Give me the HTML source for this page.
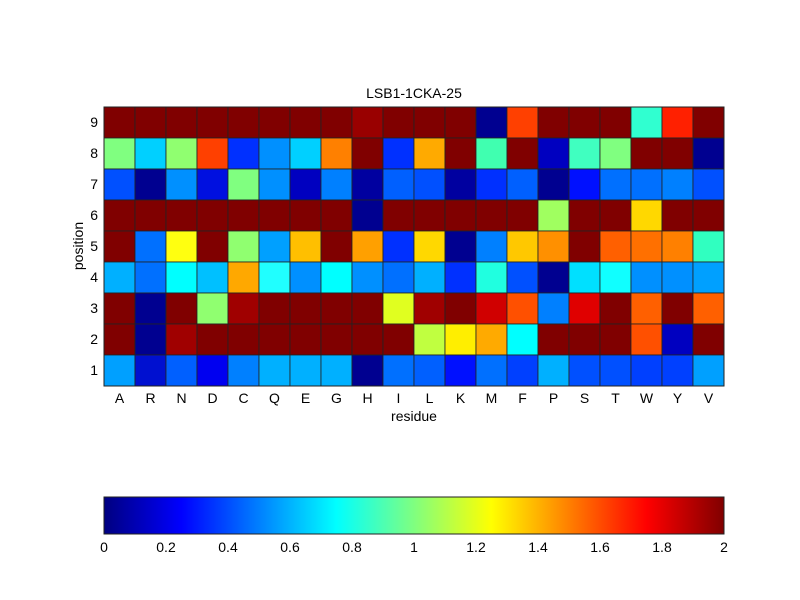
<!DOCTYPE html>
<html><head><meta charset="utf-8"><style>
html,body{margin:0;padding:0;background:#fff;}
svg{display:block;font-family:"Liberation Sans",sans-serif;}
</style></head><body>
<svg id="s" width="800" height="600" xmlns="http://www.w3.org/2000/svg">
<defs><linearGradient id="jet" x1="0" x2="1" y1="0" y2="0">
<stop offset="0" stop-color="#000080"/><stop offset="0.125" stop-color="#0000ff"/>
<stop offset="0.375" stop-color="#00ffff"/><stop offset="0.625" stop-color="#ffff00"/>
<stop offset="0.875" stop-color="#ff0000"/><stop offset="1" stop-color="#800000"/></linearGradient></defs>
<rect width="800" height="600" fill="#fff"/>
<g id="cells"></g>
<rect x="104" y="107" width="620" height="279" fill="none" stroke="#222" stroke-width="1"/>
<text x="414" y="98" font-size="14" text-anchor="middle">LSB1-1CKA-25</text>
<g font-size="14" text-anchor="end">
<text x="98" y="127">9</text><text x="98" y="158">8</text><text x="98" y="189">7</text>
<text x="98" y="220">6</text><text x="98" y="251">5</text><text x="98" y="282">4</text>
<text x="98" y="313">3</text><text x="98" y="344">2</text><text x="98" y="375">1</text>
</g>
<g font-size="14" text-anchor="middle" id="xl">
<text x="119.5" y="403">A</text><text x="150.5" y="403">R</text><text x="181.5" y="403">N</text><text x="212.5" y="403">D</text><text x="243.5" y="403">C</text><text x="274.5" y="403">Q</text><text x="305.5" y="403">E</text><text x="336.5" y="403">G</text><text x="367.5" y="403">H</text><text x="398.5" y="403">I</text><text x="429.5" y="403">L</text><text x="460.5" y="403">K</text><text x="491.5" y="403">M</text><text x="522.5" y="403">F</text><text x="553.5" y="403">P</text><text x="584.5" y="403">S</text><text x="615.5" y="403">T</text><text x="646.5" y="403">W</text><text x="677.5" y="403">Y</text><text x="708.5" y="403">V</text>
</g>
<text x="414" y="421" font-size="14" text-anchor="middle">residue</text>
<text x="0" y="0" font-size="14" text-anchor="middle" transform="translate(83,246) rotate(-90)">position</text>
<rect x="104" y="497" width="620" height="37" fill="url(#jet)" stroke="#222" stroke-width="1"/>
<g font-size="14" text-anchor="middle">
<text x="104" y="552">0</text><text x="166" y="552">0.2</text><text x="228" y="552">0.4</text><text x="290" y="552">0.6</text><text x="352" y="552">0.8</text><text x="414" y="552">1</text><text x="476" y="552">1.2</text><text x="538" y="552">1.4</text><text x="600" y="552">1.6</text><text x="662" y="552">1.8</text><text x="724" y="552">2</text>
</g>
</svg>
<script>
var D="#800000";
var rows=[
[D,D,D,D,D,D,D,D,"#990000",D,D,D,"#000090","#ff4000",D,D,D,"#30ffd0","#ff2000",D],
["#80ff80","#00d0ff","#90ff70","#ff4000","#0030ff","#0090ff","#00d0ff","#ff8000",D,"#0030ff","#ffaa00",D,"#40ffb0",D,"#0000c0","#40ffc0","#80ff80",D,D,"#000090"],
["#0050ff","#000090","#0090ff","#0010e0","#80ff80","#0090ff","#0000c0","#0080ff","#0000a0","#0060ff","#0050ff","#0000a0","#0030ff","#0060ff","#000090","#0010ff","#0070ff","#0070ff","#0080ff","#0050ff"],
[D,D,D,D,D,D,D,D,"#000090",D,D,D,D,D,"#a0ff60",D,D,"#ffd800",D,D],
[D,"#0070ff","#ffff10",D,"#90ff70","#00a0ff","#ffbf00",D,"#ffa000","#0030ff","#ffd800","#000090","#0080ff","#ffc800","#ff9000",D,"#ff6000","#ff7000","#ff8000","#30ffc0"],
["#00b0ff","#0070ff","#00ffff","#00c0ff","#ffa800","#20ffff","#0090ff","#00ffff","#0090ff","#0070ff","#00b0ff","#0030ff","#20ffe0","#0050ff","#000090","#00e0ff","#10ffff","#0090ff","#0090ff","#00a0ff"],
[D,"#000090",D,"#90ff70","#a00000",D,D,D,D,"#e0ff20","#a00000",D,"#d00000","#ff5000","#0080ff","#e00000",D,"#ff6000",D,"#ff6000"],
[D,"#000090","#a00000",D,D,D,D,D,D,D,"#c0ff40","#ffee00","#ffaa00","#00ffff",D,D,D,"#ff5000","#0000c0",D],
["#00a0ff","#0010d0","#0060ff","#0000f0","#0080ff","#00b0ff","#00b0ff","#00b0ff","#000090","#0070ff","#0060ff","#0010ff","#0070ff","#0040ff","#00b0ff","#0050ff","#0050ff","#0040ff","#0040ff","#00a0ff"]];
var g=document.getElementById("cells"),h="";
for(var r=0;r<9;r++)for(var c=0;c<20;c++)h+='<rect x="'+(104+c*31)+'" y="'+(107+r*31)+'" width="31" height="31" fill="'+rows[r][c]+'" stroke="#222" stroke-width="0.8"/>';
g.innerHTML=h;
</script>
</body></html>
